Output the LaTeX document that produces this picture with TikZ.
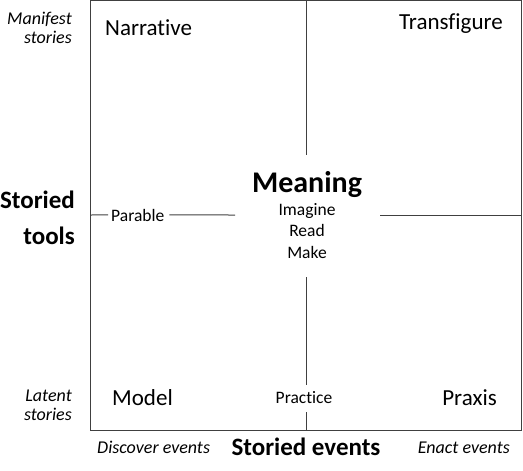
\documentclass[tikz,border=0pt]{standalone}
\usepackage{fontspec}
\setmainfont{Carlito}[Ligatures=NoCommon]

\begin{document}
\begin{tikzpicture}[x=1pt,y=1pt]
    \tikzstyle{every node}+=[inner sep=0pt]
    \tikzstyle{rule}=[black!75,line width=1pt]
    \tikzstyle{big}=[font=\fontsize{23}{27}\selectfont]
    \tikzstyle{small}=[font=\fontsize{17.5}{21.5}\selectfont]
    \tikzstyle{side}=[font=\fontsize{18}{19}\selectfont\itshape,align=right]
    \tikzstyle{axis}=[font=\fontsize{25}{36}\selectfont\bfseries]
    \useasboundingbox (0,0) rectangle (523,-471);
    % frame and the gaps in the cross
    \coordinate (nw) at (90,0);
    \coordinate (se) at (521,-430);
    \coordinate (tm) at (306,0);
    \coordinate (t1) at (306,-155);
    \coordinate (b1) at (306,-277);
    \coordinate (b2) at (306,-385);
    \coordinate (b3) at (306,-412);
    \coordinate (bm) at (306,-430);
    \coordinate (lm) at (90,-215);
    \coordinate (l1) at (235,-215);
    \coordinate (r1) at (380,-215);
    \coordinate (rm) at (521,-215);
    % labels in the quadrants
    \node [big,anchor=base west] (narrative) at (105,-35) {Narrative};
    \node [big,anchor=base east] (transfigure) at (503,-30) {Transfigure};
    \node [big,anchor=base west] (model) at (112,-405) {Model};
    \node [big,anchor=base east] (praxis) at (497,-405) {Praxis};
    \node [small,anchor=base west] (parable) at (111,-221) {Parable};
    \node [small,anchor=base] (practice) at (304,-403) {Practice};
    \node [font=\fontsize{30}{30}\selectfont\bfseries,anchor=base] (meaning) at (307,-192) {Meaning};
    % multi-line nodes sit on their last line
    \node [small,anchor=base,align=center] (verbs) at (307,-258) {Imagine\\Read\\Make};
    % axis texts
    \node [side,anchor=base east] (manifest) at (72,-43) {Manifest\\stories};
    \node [side,anchor=base east] (latent) at (72,-420) {Latent\\stories};
    \node [axis,anchor=base east,align=right] (tools) at (75,-244) {Storied\\tools};
    \node [axis,anchor=base] (events) at (306,-455) {Storied events};
    \node [side,anchor=base west] (discover) at (97,-453) {Discover events};
    \node [side,anchor=base east] (enact) at (510,-453) {Enact events};
    % lines
    \draw [rule] (nw) rectangle (se);
    \draw [rule] (tm) -- (t1);
    \draw [rule] (b1) -- (b2);
    \draw [rule] (b3) -- (bm);
    \draw [rule] (lm) -- ([xshift=-3pt]parable.west);
    \draw [rule] ([xshift=5pt]parable.east) -- (l1);
    \draw [rule] (r1) -- (rm);
\end{tikzpicture}
\end{document}
